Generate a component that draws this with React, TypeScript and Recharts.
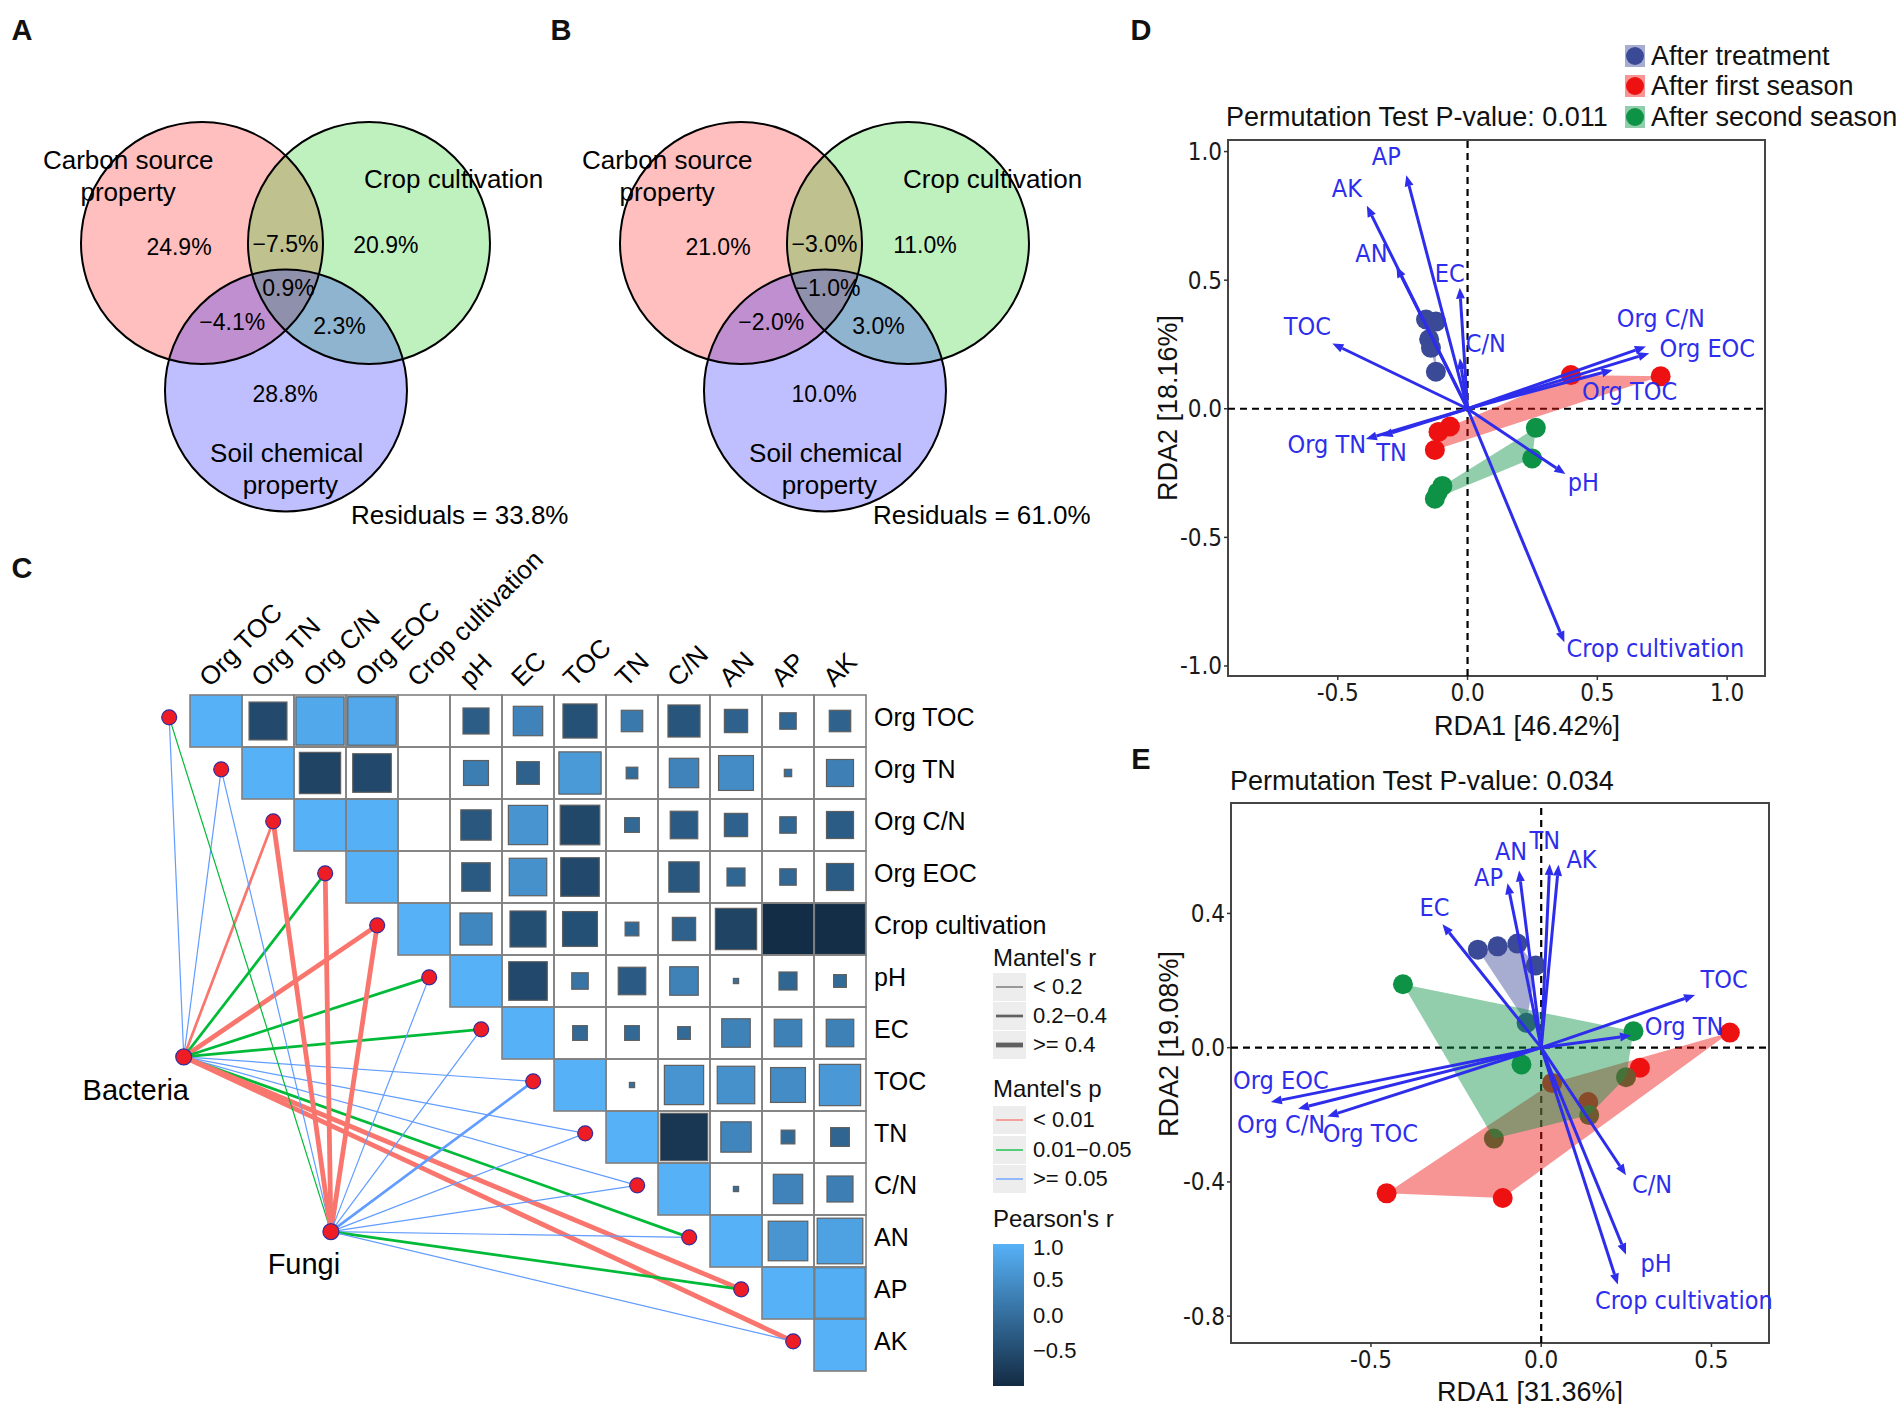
import React from 'react';
import { ScatterChart, Scatter, XAxis, YAxis, ReferenceLine, ReferenceArea } from 'recharts';

const SANS = '"Liberation Sans", Arial, Helvetica, sans-serif';
const NARROW = '"Liberation Sans Narrow", "Arial Narrow", "DejaVu Sans Condensed", sans-serif';

// ---------- A / B : variation partitioning ----------
const VENN_GROUP_LINES = [['Carbon source', 'property'], ['Crop cultivation'], ['Soil chemical', 'property']];
// carbon only, carbon∩crop, crop only, all three, carbon∩soil, crop∩soil, soil only
const VENN_A = [24.9, -7.5, 20.9, 0.9, -4.1, 2.3, 28.8];
const VENN_B = [21.0, -3.0, 11.0, -1.0, -2.0, 3.0, 10.0];
const VENN_RESIDUALS = [33.8, 61.0];

// ---------- C : correlation + mantel ----------
const ENV_VARS = ['Org TOC', 'Org TN', 'Org C/N', 'Org EOC', 'Crop cultivation', 'pH', 'EC', 'TOC', 'TN', 'C/N', 'AN', 'AP', 'AK'];
// row i holds r for columns i+1 .. 12 (null = not computed)
const PEARSON_R: (number | null)[][] = [
  [-0.53, 0.86, 0.87, null, -0.25, 0.32, -0.43, 0.17, -0.38, -0.2, -0.1, -0.17],
  [-0.63, -0.55, null, 0.23, -0.19, 0.66, -0.05, 0.32, 0.45, 0.02, 0.27],
  [0.99, null, -0.34, 0.57, -0.58, -0.08, -0.28, -0.2, -0.1, -0.27],
  [null, -0.3, 0.52, -0.55, 0.0, -0.34, -0.12, -0.1, -0.27],
  [0.38, -0.48, -0.45, -0.07, -0.2, -0.63, -0.97, -0.96],
  [-0.55, 0.1, -0.28, 0.3, 0.01, -0.12, -0.06],
  [-0.08, -0.08, -0.06, 0.3, 0.28, 0.28],
  [0.01, 0.57, 0.52, 0.45, 0.63],
  [-0.83, 0.34, -0.07, -0.13],
  [-0.01, 0.32, 0.25],
  [0.58, 0.77],
  [0.95],
  [],
];
const MANTEL_SPECIES = ['Bacteria', 'Fungi'];
// p class: 0 <0.01, 1 0.01-0.05, 2 >=0.05 ; r class: 0 <0.2, 1 0.2-0.4, 2 >=0.4
const MANTEL_BACTERIA_P = [2, 2, 0, 1, 0, 1, 1, 2, 2, 2, 1, 0, 0];
const MANTEL_BACTERIA_R = [0, 0, 1, 1, 2, 1, 1, 0, 0, 0, 1, 2, 2];
const MANTEL_FUNGI_P = [1, 2, 0, 0, 0, 2, 2, 2, 2, 2, 2, 1, 2];
const MANTEL_FUNGI_R = [0, 0, 2, 2, 2, 0, 0, 1, 0, 0, 0, 1, 0];
const MANTEL_R_LABELS = ['< 0.2', '0.2\u22120.4', '>= 0.4'];
const MANTEL_P_LABELS = ['< 0.01', '0.01\u22120.05', '>= 0.05'];
const PEARSON_TICKS = [-0.5, 0, 0.5, 1];

// ---------- D / E : RDA ----------
const GROUP_NAMES = ['After treatment', 'After first season', 'After second season'];

const D_TREATMENT = [[-0.16, 0.347], [-0.122, 0.339], [-0.148, 0.27], [-0.141, 0.237], [-0.122, 0.144]];
const D_FIRST = [[0.398, 0.131], [0.744, 0.126], [-0.068, -0.069], [-0.112, -0.09], [-0.126, -0.16]];
const D_SECOND = [[0.263, -0.074], [0.249, -0.193], [-0.097, -0.3], [-0.115, -0.325], [-0.126, -0.35]];
const D_ARROW_NAMES = ['AP', 'AK', 'AN', 'EC', 'C/N', 'TOC', 'Org C/N', 'Org EOC', 'Org TOC', 'Org TN', 'TN', 'pH', 'Crop cultivation'];
const D_ARROW_X = [-0.236, -0.388, -0.274, -0.03, -0.03, -0.521, 0.687, 0.7, 0.559, -0.392, -0.331, 0.377, 0.373];
const D_ARROW_Y = [0.908, 0.789, 0.553, 0.471, 0.196, 0.254, 0.242, 0.216, 0.151, -0.118, -0.106, -0.254, -0.908];
const D_X_TICKS = [-0.5, 0, 0.5, 1.0];
const D_Y_TICKS = [-1.0, -0.5, 0, 0.5, 1.0];

const E_TREATMENT = [[-0.186, 0.292], [-0.128, 0.302], [-0.07, 0.31], [-0.016, 0.245], [-0.043, 0.074]];
const E_FIRST = [[0.554, 0.045], [0.29, -0.06], [0.032, -0.105], [0.138, -0.162], [-0.454, -0.434], [-0.113, -0.448]];
const E_SECOND = [[-0.406, 0.189], [0.271, 0.049], [-0.058, -0.05], [0.249, -0.088], [0.141, -0.201], [-0.139, -0.271]];
const E_ARROW_NAMES = ['TN', 'AK', 'AN', 'AP', 'EC', 'TOC', 'Org TN', 'Org EOC', 'Org C/N', 'Org TOC', 'C/N', 'pH', 'Crop cultivation'];
const E_ARROW_X = [0.025, 0.051, -0.065, -0.099, -0.29, 0.452, 0.264, -0.794, -0.714, -0.628, 0.249, 0.249, 0.225];
const E_ARROW_Y = [0.547, 0.545, 0.528, 0.49, 0.368, 0.157, 0.036, -0.162, -0.182, -0.205, -0.38, -0.616, -0.706];
const E_X_TICKS = [-0.5, 0, 0.5];
const E_Y_TICKS = [-0.8, -0.4, 0, 0.4];

// ---------- layout / styles ----------
const VENN_R = 121;
const VENN_CENTERS = [[0, 0], [1.38, 0], [0.694, 1.219]];
const VENN_COLORS = ['#ff0000', '#00c800', '#0000ff'];
const VENN_REGION_POS = [[-0.19, 0.03], [0.69, 0.01], [1.52, 0.015], [0.715, 0.376], [0.25, 0.657], [1.136, 0.682], [0.686, 1.25]];
const VENN_GROUP_POS = [[[-0.61, -0.69], [-0.61, -0.42]], [[2.08, -0.53]], [[0.7, 1.735], [0.73, 2.0]]];

const CELL = 52;
const P_COLORS = ['#F8766D', '#00BA38', '#619CFF'];
const R_WIDTHS = [1.2, 2.7, 4.8];
const NODE_POS = [[-0.62, 6.46], [2.21, 9.82]];
const NODE_LABEL_OFFSET = [[-48, 33], [-27, 32]];

const GROUP_COLORS = ['#3B4A96', '#EE1111', '#0E9246'];
const ARROW_COLOR = '#2D2DEB';
const D_LABEL_OFFSETS = [[-20, -19], [-20, -17], [-25, -13], [-10, -14], [26, -15], [-25, -17], [15, -28], [58, -5], [17, 22], [-39, 5], [10, 16], [18, 8], [91, 6]];
const E_LABEL_OFFSETS = [[-5, -24], [23, -5], [-8, -19], [-19, -6], [-8, -17], [29, -15], [53, -9], [10, -22], [-17, 16], [43, 17], [26, 9], [30, 9], [66, 16]];

const minus = (s: string) => s.replace('-', '\u2212');
const fmtPct = (v: number) => minus(v.toFixed(1)) + '%';
const fmt1 = (v: number) => v.toFixed(1);

const Nothing = () => <g />;

const textShape = (size: number, family = SANS, color = '#000') => (p: any) => (
  <text x={p.cx} y={p.cy} textAnchor="middle" dominantBaseline="central" fontSize={size} fontFamily={family} fill={color}>
    {p.payload.label}
  </text>
);

function corrColor(r: number) {
  const lo = [19, 43, 67];
  const hi = [86, 177, 247];
  const t = (r + 1) / 2;
  const c = lo.map((l, k) => Math.round(l + (hi[k] - l) * t));
  return `rgb(${c[0]},${c[1]},${c[2]})`;
}

function convexHull(pts: number[][]) {
  const p = [...pts].sort((a, b) => a[0] - b[0] || a[1] - b[1]);
  const cross = (o: number[], a: number[], b: number[]) => (a[0] - o[0]) * (b[1] - o[1]) - (a[1] - o[1]) * (b[0] - o[0]);
  const lower: number[][] = [];
  for (const q of p) {
    while (lower.length >= 2 && cross(lower[lower.length - 2], lower[lower.length - 1], q) <= 0) lower.pop();
    lower.push(q);
  }
  const upper: number[][] = [];
  for (const q of [...p].reverse()) {
    while (upper.length >= 2 && cross(upper[upper.length - 2], upper[upper.length - 1], q) <= 0) upper.pop();
    upper.push(q);
  }
  upper.pop();
  lower.pop();
  return lower.concat(upper);
}

// simple absolutely placed text, y is the vertical centre
function T({ x, y, size, children, anchor = 'start', weight = 400, family = SANS, rotate = 0 }: any) {
  const tx = anchor === 'middle' ? '-50%' : anchor === 'end' ? '-100%' : '0';
  return (
    <div
      style={{
        position: 'absolute', left: x, top: y, fontSize: size, fontWeight: weight, fontFamily: family,
        lineHeight: 1, whiteSpace: 'nowrap', transform: `translate(${tx}, -50%) rotate(${rotate}deg)`, color: '#111',
      }}
    >
      {children}
    </div>
  );
}

// ---------- Venn ----------
function VennPanel({ left, values, residual, residualX }: any) {
  const W = 600, H = 480;
  const ox = 202, oy = 243 - 60;
  const xDom = [-ox / VENN_R, (W - ox) / VENN_R];
  const yDom = [-oy / VENN_R, (H - oy) / VENN_R];
  const circles = VENN_CENTERS.map(([x, y], i) => ({ x, y, i }));
  const regions = values.map((v: number, i: number) => ({ x: VENN_REGION_POS[i][0], y: VENN_REGION_POS[i][1], label: fmtPct(v) }));
  const groups = VENN_GROUP_LINES.flatMap((lines, g) =>
    lines.map((t, k) => ({ x: VENN_GROUP_POS[g][k][0], y: VENN_GROUP_POS[g][k][1], label: t })));
  const resid = [{ x: residualX, y: 2.25, label: `Residuals = ${residual.toFixed(1)}%` }];
  return (
    <div style={{ position: 'absolute', left, top: 60 }}>
      <ScatterChart width={W} height={H} margin={{ top: 0, right: 0, bottom: 0, left: 0 }}>
        <XAxis type="number" dataKey="x" domain={xDom} hide />
        <YAxis type="number" dataKey="y" domain={yDom} reversed hide />
        <Scatter data={circles} isAnimationActive={false}
          shape={(p: any) => <circle cx={p.cx} cy={p.cy} r={VENN_R} fill={VENN_COLORS[p.payload.i]} fillOpacity={0.25} />} />
        <Scatter data={circles} isAnimationActive={false}
          shape={(p: any) => <circle cx={p.cx} cy={p.cy} r={VENN_R} fill="none" stroke="#000" strokeWidth={2} />} />
        <Scatter data={regions} isAnimationActive={false} shape={textShape(23)} />
        <Scatter data={groups} isAnimationActive={false} shape={textShape(26)} />
        <Scatter data={resid} isAnimationActive={false} shape={textShape(26)} />
      </ScatterChart>
    </div>
  );
}

// ---------- correlation heatmap with mantel links ----------
function CorrPanel() {
  const W = 1100, H = 860, TOP = 540;
  const gridLeft = 190, gridTop = 695;
  const xDom = [-0.5 - gridLeft / CELL, -0.5 - gridLeft / CELL + W / CELL];
  const yDom = [-0.5 - (gridTop - TOP) / CELL, -0.5 - (gridTop - TOP) / CELL + H / CELL];

  const cells: any[] = [];
  ENV_VARS.forEach((_, i) => {
    for (let j = i; j < ENV_VARS.length; j++) {
      const r = j === i ? 1 : PEARSON_R[i][j - i - 1];
      cells.push({ x: j, y: i, r, diag: i === j });
    }
  });
  const dots = ENV_VARS.map((name, i) => ({ x: i - 0.9, y: i - 0.07, name }));
  const rowLabels = ENV_VARS.map((label, i) => ({ x: 12.5, y: i, label }));
  const colLabels = ENV_VARS.map((label, j) => ({ x: j, y: -0.5, label }));
  const nodes = MANTEL_SPECIES.map((label, s) => ({ x: NODE_POS[s][0], y: NODE_POS[s][1], label, s }));
  const mantelP = [MANTEL_BACTERIA_P, MANTEL_FUNGI_P];
  const mantelR = [MANTEL_BACTERIA_R, MANTEL_FUNGI_R];
  const links: any[] = [];
  MANTEL_SPECIES.forEach((_, s) => {
    ENV_VARS.forEach((__, i) => {
      links.push({ key: `${s}-${i}`, p: mantelP[s][i], r: mantelR[s][i], data: [{ x: NODE_POS[s][0], y: NODE_POS[s][1] }, { x: dots[i].x, y: dots[i].y }] });
    });
  });

  const cellFill = (p: any) => {
    const { cx, cy, payload } = p;
    const h = CELL / 2;
    let inner = null;
    if (payload.r !== null) {
      const s = payload.diag ? CELL : CELL * Math.sqrt(Math.abs(payload.r));
      inner = (
        <rect x={cx - s / 2} y={cy - s / 2} width={s} height={s} fill={corrColor(payload.r)}
          stroke={payload.diag ? 'none' : '#5f5f5f'} strokeWidth={1.2} />
      );
    }
    return <g><rect x={cx - h} y={cy - h} width={CELL} height={CELL} fill="#fff" />{inner}</g>;
  };
  const cellBorder = (p: any) => (
    <rect x={p.cx - CELL / 2} y={p.cy - CELL / 2} width={CELL} height={CELL} fill="none" stroke="#808080" strokeWidth={1.6} />
  );
  const linkLine = (color: string, w: number) => (props: any) => {
    const pts = props.points || [];
    if (pts.length < 2) return <g />;
    return <line x1={pts[0].x} y1={pts[0].y} x2={pts[1].x} y2={pts[1].y} stroke={color} strokeWidth={w} />;
  };
  const dotShape = (p: any) => <circle cx={p.cx} cy={p.cy} r={7.5} fill="#EE1C25" stroke="#2f2f9f" strokeWidth={1.2} />;
  const nodeShape = (p: any) => (
    <g>
      <circle cx={p.cx} cy={p.cy} r={8} fill="#EE1C25" stroke="#2f2f9f" strokeWidth={1.2} />
      <text x={p.cx + NODE_LABEL_OFFSET[p.payload.s][0]} y={p.cy + NODE_LABEL_OFFSET[p.payload.s][1]} textAnchor="middle"
        dominantBaseline="central" fontSize={29} fontFamily={SANS} fill="#000">{p.payload.label}</text>
    </g>
  );
  const rowLabelShape = (p: any) => (
    <text x={p.cx + 8} y={p.cy - 4} dominantBaseline="central" fontSize={25} fontFamily={SANS} fill="#000">{p.payload.label}</text>
  );
  const colLabelShape = (p: any) => {
    const x = p.cx - 6, y = p.cy - 7;
    return (
      <text x={x} y={y} transform={`rotate(-45 ${x} ${y})`} fontSize={26} fontFamily={SANS} fill="#000">{p.payload.label}</text>
    );
  };

  return (
    <div style={{ position: 'absolute', left: 0, top: TOP }}>
      <ScatterChart width={W} height={H} margin={{ top: 0, right: 0, bottom: 0, left: 0 }}>
        <XAxis type="number" dataKey="x" domain={xDom} hide />
        <YAxis type="number" dataKey="y" domain={yDom} reversed hide />
        {links.map((l) => (
          <Scatter key={l.key} data={l.data} isAnimationActive={false} shape={Nothing}
            line={linkLine(P_COLORS[l.p], R_WIDTHS[l.r])} />
        ))}
        <Scatter data={dots} isAnimationActive={false} shape={dotShape} />
        <Scatter data={nodes} isAnimationActive={false} shape={nodeShape} />
        <Scatter data={cells} isAnimationActive={false} shape={cellFill} />
        <Scatter data={cells} isAnimationActive={false} shape={cellBorder} />
        <Scatter data={rowLabels} isAnimationActive={false} shape={rowLabelShape} />
        <Scatter data={colLabels} isAnimationActive={false} shape={colLabelShape} />
      </ScatterChart>
    </div>
  );
}

function CorrLegend() {
  const keyLeft = 993;
  const rY = [987, 1016, 1045];
  const pY = [1120, 1150, 1179];
  const key = (y: number, color: string, w: number, k: number) => (
    <svg key={k} width={33} height={28} style={{ position: 'absolute', left: keyLeft, top: y - 14 }}>
      <rect x={0} y={0} width={33} height={28} fill="#ededed" />
      <line x1={3} x2={30} y1={14} y2={14} stroke={color} strokeWidth={w} />
    </svg>
  );
  return (
    <>
      <T x={keyLeft} y={958} size={24}>Mantel's r</T>
      {MANTEL_R_LABELS.map((l, k) => key(rY[k], '#606060', R_WIDTHS[k], k))}
      {MANTEL_R_LABELS.map((l, k) => <T key={l} x={1033} y={rY[k]} size={22}>{l}</T>)}
      <T x={keyLeft} y={1089} size={24}>Mantel's p</T>
      {MANTEL_P_LABELS.map((l, k) => key(pY[k], P_COLORS[k], 1.3, k))}
      {MANTEL_P_LABELS.map((l, k) => <T key={l} x={1033} y={pY[k]} size={22}>{l}</T>)}
      <T x={keyLeft} y={1219} size={24}>Pearson's r</T>
      <div style={{ position: 'absolute', left: keyLeft, top: 1234 }}>
        <ScatterChart width={95} height={162} margin={{ top: 10, right: 0, bottom: 10, left: 0 }}>
          <defs>
            <linearGradient id="pearsonGrad" x1="0" y1="0" x2="0" y2="1">
              <stop offset="0%" stopColor="#56B1F7" />
              <stop offset="100%" stopColor="#132B43" />
            </linearGradient>
          </defs>
          <XAxis type="number" dataKey="x" domain={[0, 1]} hide />
          <YAxis type="number" dataKey="y" domain={[-1, 1]} orientation="right" ticks={PEARSON_TICKS} width={64}
            tickFormatter={(v: number) => minus(v.toFixed(1))} axisLine={false} tickLine={false} tickSize={4} tickMargin={5}
            tick={{ fontSize: 22, fill: '#111', fontFamily: SANS, textAnchor: 'start' }} />
          <ReferenceArea x1={0} x2={1} y1={-1} y2={1} fill="url(#pearsonGrad)" fillOpacity={1} stroke="none" ifOverflow="visible" />
          <Scatter data={[{ x: 0, y: -1 }, { x: 1, y: 1 }]} isAnimationActive={false} shape={Nothing} />
        </ScatterChart>
      </div>
    </>
  );
}

// ---------- RDA ----------
const arrowLine = (props: any) => {
  const pts = props.points || [];
  if (pts.length < 2) return <g />;
  const a = pts[0], b = pts[1];
  const ang = Math.atan2(b.y - a.y, b.x - a.x);
  const L = 11, w = 4.5;
  const bx = b.x - L * Math.cos(ang), by = b.y - L * Math.sin(ang);
  const s = Math.sin(ang), c = Math.cos(ang);
  return (
    <g>
      <line x1={a.x} y1={a.y} x2={bx} y2={by} stroke={ARROW_COLOR} strokeWidth={3} />
      <polygon points={`${b.x},${b.y} ${bx + w * s},${by - w * c} ${bx - w * s},${by + w * c}`} fill={ARROW_COLOR} />
    </g>
  );
};

const hullLine = (color: string) => (props: any) => {
  const pts = props.points || [];
  if (pts.length < 3) return <g />;
  const d = pts.map((q: any, k: number) => `${k ? 'L' : 'M'}${q.x},${q.y}`).join(' ') + ' Z';
  return <path d={d} fill={color} fillOpacity={0.45} stroke="none" />;
};

const pointShape = (color: string) => (p: any) => <circle cx={p.cx} cy={p.cy} r={10} fill={color} />;

function RdaPanel(props: any) {
  const { left, top, width, height, margin, yAxisWidth, xAxisHeight, xDomain, yDomain, xTicks, yTicks,
    groups, arrowNames, arrowX, arrowY, offsets } = props;
  const arrows = arrowNames.map((label: string, k: number) => ({ x: arrowX[k], y: arrowY[k], label, k }));
  const labelShape = (p: any) => (
    <text x={p.cx + offsets[p.payload.k][0]} y={p.cy + offsets[p.payload.k][1]} textAnchor="middle" dominantBaseline="central"
      fontSize={25} fontFamily={NARROW} fill={ARROW_COLOR}>{p.payload.label}</text>
  );
  const tick = { fontSize: 24, fill: '#1a1a1a', fontFamily: NARROW };
  return (
    <div style={{ position: 'absolute', left, top }}>
      <ScatterChart width={width} height={height} margin={margin}>
        <XAxis type="number" dataKey="x" domain={xDomain} ticks={xTicks} interval={0} tickFormatter={fmt1} height={xAxisHeight}
          axisLine={false} tickLine={{ stroke: '#333', strokeWidth: 1.5 }} tickSize={4} tickMargin={4} tick={tick} />
        <YAxis type="number" dataKey="y" domain={yDomain} ticks={yTicks} interval={0} tickFormatter={fmt1} width={yAxisWidth}
          axisLine={false} tickLine={{ stroke: '#333', strokeWidth: 1.5 }} tickSize={4} tickMargin={2} tick={tick} />
        <ReferenceLine x={0} stroke="#000" strokeWidth={2.2} strokeDasharray="7 5" />
        <ReferenceLine y={0} stroke="#000" strokeWidth={2.2} strokeDasharray="7 5" />
        {groups.map((g: number[][], k: number) => (
          <Scatter key={`pt${k}`} data={g.map(([x, y]) => ({ x, y }))} isAnimationActive={false} shape={pointShape(GROUP_COLORS[k])} />
        ))}
        {groups.map((g: number[][], k: number) => (
          <Scatter key={`hull${k}`} data={convexHull(g).map(([x, y]) => ({ x, y }))} isAnimationActive={false}
            shape={Nothing} line={hullLine(GROUP_COLORS[k])} />
        ))}
        {arrows.map((a: any) => (
          <Scatter key={`ar${a.k}`} data={[{ x: 0, y: 0 }, { x: a.x, y: a.y }]} isAnimationActive={false} shape={Nothing} line={arrowLine} />
        ))}
        <Scatter data={arrows} isAnimationActive={false} shape={labelShape} />
        <ReferenceArea x1={xDomain[0]} x2={xDomain[1]} y1={yDomain[0]} y2={yDomain[1]} fill="none" fillOpacity={0}
          stroke="#454545" strokeWidth={2} ifOverflow="visible" />
      </ScatterChart>
    </div>
  );
}

function GroupLegend() {
  const ys = [56, 86, 117];
  return (
    <>
      {GROUP_NAMES.map((name, k) => (
        <React.Fragment key={name}>
          <svg width={22} height={24} style={{ position: 'absolute', left: 1624, top: ys[k] - 12 }}>
            <rect x={1} y={1} width={20} height={22} fill={GROUP_COLORS[k]} fillOpacity={0.45} />
            <circle cx={11} cy={12} r={9} fill={GROUP_COLORS[k]} />
          </svg>
          <T x={1651} y={ys[k]} size={27}>{name}</T>
        </React.Fragment>
      ))}
    </>
  );
}

export default function App() {
  return (
    <div style={{ position: 'relative', width: 1904, height: 1412, margin: -8, background: '#fff', overflow: 'hidden', fontFamily: SANS }}>
      <T x={22} y={30} size={29} weight={700} anchor="middle">A</T>
      <T x={561} y={30} size={29} weight={700} anchor="middle">B</T>
      <T x={22} y={568} size={29} weight={700} anchor="middle">C</T>
      <T x={1141} y={30} size={29} weight={700} anchor="middle">D</T>
      <T x={1141} y={759} size={29} weight={700} anchor="middle">E</T>

      <VennPanel left={0} values={VENN_A} residual={VENN_RESIDUALS[0]} residualX={2.13} />
      <VennPanel left={539} values={VENN_B} residual={VENN_RESIDUALS[1]} residualX={1.99} />

      <CorrPanel />
      <CorrLegend />

      <T x={1226} y={117} size={27}>Permutation Test P-value: 0.011</T>
      <GroupLegend />
      <RdaPanel left={1100} top={130} width={700} height={620} margin={{ top: 10, right: 35, bottom: 0, left: 0 }}
        yAxisWidth={128} xAxisHeight={74} xDomain={[-0.923, 1.146]} yDomain={[-1.039, 1.045]} xTicks={D_X_TICKS} yTicks={D_Y_TICKS}
        groups={[D_TREATMENT, D_FIRST, D_SECOND]} arrowNames={D_ARROW_NAMES} arrowX={D_ARROW_X} arrowY={D_ARROW_Y} offsets={D_LABEL_OFFSETS} />
      <T x={1527} y={726} size={27} anchor="middle">RDA1 [46.42%]</T>
      <T x={1168} y={408} size={27} anchor="middle" rotate={-90}>RDA2 [18.16%]</T>

      <T x={1230} y={781} size={27}>Permutation Test P-value: 0.034</T>
      <RdaPanel left={1100} top={793} width={700} height={620} margin={{ top: 10, right: 31, bottom: 0, left: 0 }}
        yAxisWidth={131} xAxisHeight={70} xDomain={[-0.911, 0.669]} yDomain={[-0.88, 0.729]} xTicks={E_X_TICKS} yTicks={E_Y_TICKS}
        groups={[E_TREATMENT, E_FIRST, E_SECOND]} arrowNames={E_ARROW_NAMES} arrowX={E_ARROW_X} arrowY={E_ARROW_Y} offsets={E_LABEL_OFFSETS} />
      <T x={1530} y={1392} size={27} anchor="middle">RDA1 [31.36%]</T>
      <T x={1169} y={1044} size={27} anchor="middle" rotate={-90}>RDA2 [19.08%]</T>
    </div>
  );
}
